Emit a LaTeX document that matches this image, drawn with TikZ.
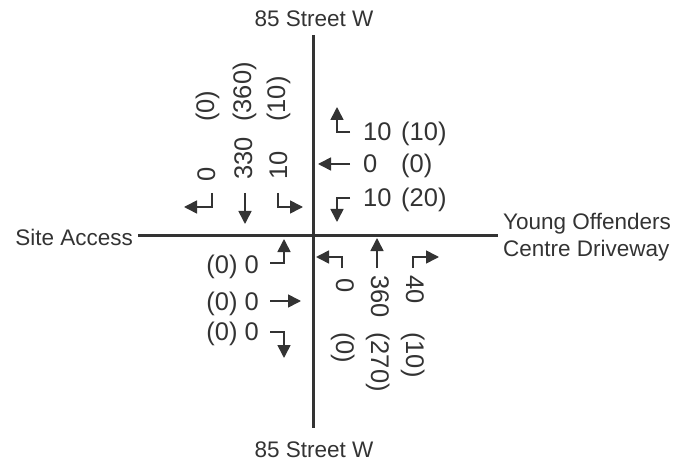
\documentclass[tikz,border=0pt]{standalone}
\usepackage{fontspec}
\setmainfont{Liberation Sans}
\usetikzlibrary{arrows.meta}
\definecolor{ink}{HTML}{333333}
\begin{document}
\begin{tikzpicture}[x=1pt,y=-1pt,
  road/.style={draw=ink,line width=3pt},
  mv/.style={draw=ink,line width=1.6pt,-{Triangle[length=13pt,width=13pt]}},
  lbl/.style={text=ink,font=\fontsize{22.5}{27}\selectfont,inner sep=0pt},
  num/.style={text=ink,font=\fontsize{25.5}{28}\selectfont,inner sep=0pt}]
\useasboundingbox (0,0) rectangle (690,462);
% street labels
\node[lbl,anchor=base] (ntop) at (314,27) {85 Street W};
\node[lbl,anchor=base] (nbot) at (314,457) {85 Street W};
\node[lbl,anchor=base east] (wlab) at (133,245) {Site Access};
\node[lbl,anchor=base west] (elab1) at (503,230) {Young Offenders};
\node[lbl,anchor=base west] (elab2) at (503,257) {Centre Driveway};
% roads
\coordinate (rn) at (313,35);
\coordinate (rs) at (313,428);
\coordinate (rw) at (138,236);
\coordinate (re) at (498,236);
\draw[road] (rn) -- (rs);
\draw[road] (rw) -- (re);
% southbound (north approach)
\coordinate (sl0) at (212,193); \coordinate (sl1) at (212,207); \coordinate (sl2) at (184,207);
\coordinate (st0) at (245,193); \coordinate (st1) at (245,224);
\coordinate (sr0) at (278,193); \coordinate (sr1) at (278,207); \coordinate (sr2) at (303,207);
\draw[mv] (sl0) -- (sl1) -- (sl2);
\draw[mv] (st0) -- (st1);
\draw[mv] (sr0) -- (sr1) -- (sr2);
\node[num,rotate=90,anchor=base west] (sla) at (215,182) {0};
\node[num,rotate=90,anchor=base west] (slp) at (214,122) {(0)};
\node[num,rotate=90,anchor=base west] (sta) at (252,180) {330};
\node[num,rotate=90,anchor=base west] (stp) at (251,122) {(360)};
\node[num,rotate=90,anchor=base west] (sra) at (287,180) {10};
\node[num,rotate=90,anchor=base west] (srp) at (285,122) {(10)};
% westbound (east approach)
\coordinate (wl0) at (350,132); \coordinate (wl1) at (337,132); \coordinate (wl2) at (337,107);
\coordinate (wt0) at (350,164); \coordinate (wt1) at (318,164);
\coordinate (wr0) at (350,198); \coordinate (wr1) at (337,198); \coordinate (wr2) at (337,222);
\draw[mv] (wl0) -- (wl1) -- (wl2);
\draw[mv] (wt0) -- (wt1);
\draw[mv] (wr0) -- (wr1) -- (wr2);
\node[num,anchor=base west] (wla) at (363,141) {10};
\node[num,anchor=base west] (wlp) at (401,141) {(10)};
\node[num,anchor=base west] (wta) at (363,173) {0};
\node[num,anchor=base west] (wtp) at (401,173) {(0)};
\node[num,anchor=base west] (wra) at (363,207) {10};
\node[num,anchor=base west] (wrp) at (401,207) {(20)};
% eastbound (west approach)
\coordinate (el0) at (270,263); \coordinate (el1) at (284,263); \coordinate (el2) at (284,239);
\coordinate (et0) at (270,301); \coordinate (et1) at (301,301);
\coordinate (er0) at (270,332); \coordinate (er1) at (284,332); \coordinate (er2) at (284,358);
\draw[mv] (el0) -- (el1) -- (el2);
\draw[mv] (et0) -- (et1);
\draw[mv] (er0) -- (er1) -- (er2);
\node[num,anchor=base east] (ela) at (259,273) {(0) 0};
\node[num,anchor=base east] (eta) at (259,310) {(0) 0};
\node[num,anchor=base east] (era) at (259,340) {(0) 0};
% northbound (south approach)
\coordinate (nl0) at (342,268); \coordinate (nl1) at (342,257); \coordinate (nl2) at (316,257);
\coordinate (nt0) at (377,268); \coordinate (nt1) at (377,238);
\coordinate (nr0) at (413,268); \coordinate (nr1) at (413,257); \coordinate (nr2) at (439,257);
\draw[mv] (nl0) -- (nl1) -- (nl2);
\draw[mv] (nt0) -- (nt1);
\draw[mv] (nr0) -- (nr1) -- (nr2);
\node[num,rotate=-90,anchor=base west] (nla) at (336,278) {0};
\node[num,rotate=-90,anchor=base west] (nlp) at (336,332) {(0)};
\node[num,rotate=-90,anchor=base west] (nta) at (371,275) {360};
\node[num,rotate=-90,anchor=base west] (ntp) at (371,332) {(270)};
\node[num,rotate=-90,anchor=base west] (nra) at (406,275) {40};
\node[num,rotate=-90,anchor=base west] (nrp) at (406,332) {(10)};
\end{tikzpicture}
\end{document}
